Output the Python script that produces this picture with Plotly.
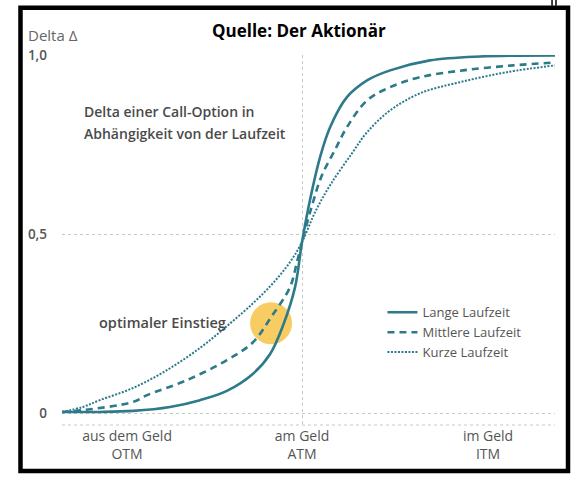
import plotly.graph_objects as go

# Delta of a call option vs. moneyness (ATM = 0), for three maturities
lang_x = [-1.000, -0.842, -0.704, -0.550, -0.425, -0.313, -0.204, -0.133, -0.079, -0.029,
          0.000, 0.033, 0.075, 0.117, 0.187, 0.271, 0.367, 0.533, 0.742, 1.054]
lang_y = [0.003, 0.003, 0.006, 0.017, 0.036, 0.062, 0.110, 0.165, 0.245, 0.352,
          0.478, 0.595, 0.715, 0.799, 0.883, 0.930, 0.958, 0.986, 0.997, 1.000]

mittel_x = [-1.000, -0.913, -0.704, -0.646, -0.479, -0.313, -0.204, -0.129, -0.050, -0.021,
            0.000, 0.042, 0.083, 0.137, 0.187, 0.271, 0.367, 0.492, 0.671, 0.879, 1.054]
mittel_y = [0.003, 0.008, 0.031, 0.050, 0.092, 0.148, 0.198, 0.268, 0.352, 0.422,
            0.478, 0.581, 0.665, 0.735, 0.799, 0.874, 0.911, 0.939, 0.958, 0.972, 0.980]

kurz_x = [-1.000, -0.913, -0.842, -0.704, -0.563, -0.425, -0.313, -0.204, -0.121, -0.050,
          0.000, 0.054, 0.117, 0.208, 0.271, 0.367, 0.492, 0.658, 0.854, 1.054]
kurz_y = [0.003, 0.017, 0.036, 0.070, 0.120, 0.182, 0.243, 0.307, 0.363, 0.422,
          0.478, 0.561, 0.637, 0.726, 0.785, 0.846, 0.894, 0.925, 0.953, 0.972]

# highlighted entry point
einstieg_x = [-0.129]
einstieg_y = [0.251]

x_tick_vals = [-0.729, 0.0, 0.775]
x_tick_text = ["aus dem Geld<br>OTM", "am Geld<br>ATM", "im Geld<br>ITM"]
y_tick_vals = [0.0, 0.5, 1.0]
y_tick_text = ["0", "0,5", "1,0"]

TEAL = "#2c7a8a"
GREY = "#555555"
FONT = "Open Sans"

fig = go.Figure()

fig.add_trace(go.Scatter(
    x=einstieg_x, y=einstieg_y, mode="markers", showlegend=False, hoverinfo="skip",
    marker=dict(size=42, color="rgba(245,192,60,0.8)", line=dict(width=0)),
))

fig.add_trace(go.Scatter(
    x=lang_x, y=lang_y, mode="lines", name="Lange Laufzeit",
    line=dict(color=TEAL, width=2.6, shape="spline", smoothing=1.0),
))
fig.add_trace(go.Scatter(
    x=mittel_x, y=mittel_y, mode="lines", name="Mittlere Laufzeit",
    line=dict(color=TEAL, width=2.6, dash="7px,5px", shape="spline", smoothing=1.0),
))
fig.add_trace(go.Scatter(
    x=kurz_x, y=kurz_y, mode="lines", name="Kurze Laufzeit",
    line=dict(color=TEAL, width=2, dash="2px,1.5px", shape="spline", smoothing=1.0),
))

fig.update_layout(
    width=577, height=477,
    margin=dict(l=62, r=22, t=55, b=52),
    paper_bgcolor="white", plot_bgcolor="white",
    font=dict(family=FONT, color=GREY),
    xaxis=dict(
        range=[-1.0, 1.054], showgrid=False, zeroline=False, showline=False,
        tickmode="array", tickvals=x_tick_vals, ticktext=x_tick_text,
        tickfont=dict(size=14, color=GREY), ticks="", ticklabelstandoff=1,
        minor=dict(tickmode="array", tickvals=[-1.0, 0.0], showgrid=True,
                   gridcolor="#c8c8c8", gridwidth=1, griddash="dot", ticks=""),
    ),
    yaxis=dict(
        range=[-0.0335, 1.001], zeroline=False, showline=False,
        tickmode="array", tickvals=y_tick_vals, ticktext=y_tick_text,
        showgrid=True, gridcolor="#c8c8c8", gridwidth=1, griddash="dot",
        tickfont=dict(size=13.5, color=GREY, weight=600), ticks="", ticklabelstandoff=14,
    ),
    legend=dict(
        x=0.65, y=0.345, xanchor="left", yanchor="top",
        bgcolor="rgba(0,0,0,0)", font=dict(size=13, color=GREY),
        tracegroupgap=0,
    ),
)

# baseline under the zero level
fig.add_shape(type="line", xref="paper", yref="paper", x0=0, x1=1, y0=0, y1=0,
              line=dict(color="#c8c8c8", width=1, dash="dot"))

# black frame around the whole graphic
fig.add_shape(type="rect", xref="paper", yref="paper",
              x0=-0.0842, x1=1.0264, y0=-0.124, y1=1.128,
              line=dict(color="black", width=4.5), fillcolor="rgba(0,0,0,0)")
for xp in (0.994, 1.002):
    fig.add_shape(type="line", xref="paper", yref="paper", x0=xp, x1=xp, y0=1.133, y1=1.15,
                  line=dict(color="black", width=1.5))

fig.add_annotation(text="Delta Δ", xref="paper", yref="paper", x=-0.073, y=1.053,
                   xanchor="left", yanchor="middle", showarrow=False,
                   font=dict(size=15, color="#666666"))
fig.add_annotation(text="<b>Quelle: Der Aktionär</b>", xref="paper", yref="paper",
                   x=0.481, y=1.065, xanchor="center", yanchor="middle", showarrow=False,
                   font=dict(size=17, color="black", family="Open Sans"))
fig.add_annotation(text="Delta einer Call-Option in", xref="paper", yref="paper",
                   x=0.0406, y=0.846, xanchor="left", yanchor="middle", showarrow=False,
                   font=dict(size=14, color="#4a4a4a", weight=600))
fig.add_annotation(text="Abhängigkeit von der Laufzeit", xref="paper", yref="paper",
                   x=0.0406, y=0.789, xanchor="left", yanchor="middle", showarrow=False,
                   font=dict(size=14, color="#4a4a4a", weight=600))
fig.add_annotation(text="optimaler Einstieg", xref="paper", yref="paper",
                   x=0.071, y=0.278, xanchor="left", yanchor="middle", showarrow=False,
                   font=dict(size=14.5, color="#4a4a4a", weight=600))

fig.write_html("out.html")
